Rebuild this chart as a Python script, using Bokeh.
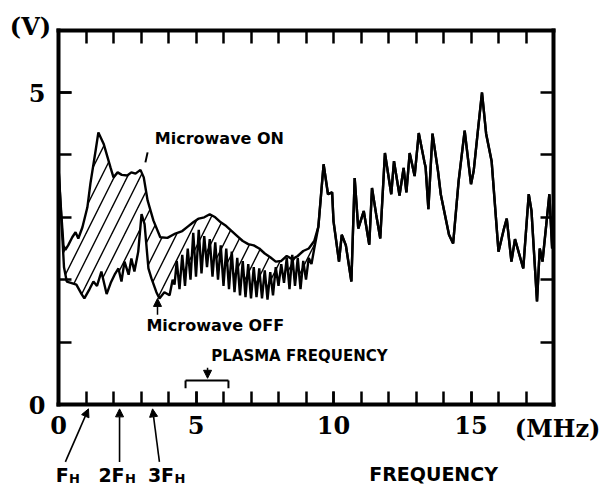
from bokeh.plotting import figure
from bokeh.models import Range1d, LinearAxis, FixedTicker, Label, Arrow, NormalHead
from bokeh.embed import file_html
from bokeh.resources import INLINE

# ---- data (MHz, V) ----
on_freq = [0.0, 0.08, 0.18, 0.25, 0.35, 0.5, 0.62, 0.72, 0.87, 1.05, 1.16, 1.35, 1.45, 1.64,
           1.89, 2.0, 2.15, 2.3, 2.5, 2.65, 2.8, 2.98, 3.1, 3.24, 3.45, 3.7, 3.96, 4.25,
           4.5, 4.7, 4.9, 5.1, 5.3, 5.5, 5.7, 5.9, 6.1, 6.3, 6.5, 6.7, 6.9, 7.1, 7.3, 7.5,
           7.7, 7.9, 8.1, 8.3, 8.5, 8.7, 8.9, 9.1, 9.3, 9.45]
on_volt = [3.80, 3.20, 2.55, 2.48, 2.55, 2.68, 2.76, 2.66, 2.84, 3.16, 3.54, 4.07, 4.36, 4.18,
           3.80, 3.64, 3.72, 3.68, 3.67, 3.72, 3.70, 3.76, 3.64, 3.27, 2.95, 2.68, 2.67, 2.74,
           2.78, 2.85, 2.92, 2.98, 3.00, 3.05, 3.00, 2.92, 2.86, 2.78, 2.70, 2.62, 2.57, 2.55,
           2.50, 2.42, 2.36, 2.29, 2.30, 2.38, 2.33, 2.38, 2.46, 2.50, 2.62, 2.85]

off_freq = [0.0, 0.1, 0.2, 0.3, 0.45, 0.65, 0.84, 0.94, 1.13, 1.27, 1.4, 1.56, 1.75, 1.9,
            2.04, 2.18, 2.29, 2.4, 2.55, 2.65, 2.76, 2.9, 3.02, 3.13, 3.27, 3.38, 3.56, 3.67,
            3.85, 4.04, 4.15, 4.22, 4.3, 4.4, 4.5, 4.6, 4.7, 4.8, 4.9, 5.0, 5.1, 5.2, 5.3,
            5.4, 5.5, 5.6, 5.7, 5.8, 5.9, 6.0, 6.1, 6.2, 6.3, 6.4, 6.5, 6.6, 6.7, 6.8, 6.9,
            7.0, 7.1, 7.2, 7.3, 7.4, 7.5, 7.6, 7.7, 7.8, 7.9, 8.0, 8.1, 8.2, 8.3, 8.4, 8.5,
            8.6, 8.7, 8.8, 8.9, 9.0, 9.1, 9.2, 9.3, 9.45]
off_volt = [3.80, 3.00, 2.20, 1.97, 1.95, 1.92, 1.77, 1.70, 1.85, 1.97, 1.90, 2.13, 1.77, 1.95,
            2.08, 2.18, 1.97, 2.29, 2.08, 2.34, 2.13, 2.45, 3.05, 2.89, 2.18, 2.02, 1.80, 1.70,
            1.80, 1.75, 2.00, 1.92, 2.30, 1.85, 2.40, 1.90, 2.50, 2.00, 2.75, 2.05, 2.80, 2.10, 2.70,
            2.20, 2.65, 2.05, 2.60, 2.00, 2.55, 1.90, 2.50, 1.85, 2.45, 1.80, 2.35, 1.75, 2.30, 1.72, 2.25,
            1.70, 2.20, 1.72, 2.18, 1.70, 2.15, 1.68, 2.12, 1.75, 2.20, 1.90, 2.25, 1.95, 2.35, 1.85, 2.40,
            1.90, 2.35, 1.85, 2.30, 2.00, 2.35, 2.25, 2.50, 2.85]

# above ~9.5 MHz both traces coincide
tail_freq = [9.64, 9.8, 9.95, 10.0, 10.2, 10.3, 10.45, 10.65, 10.77, 10.9, 11.1, 11.3, 11.4,
             11.55, 11.7, 11.87, 12.1, 12.2, 12.4, 12.55, 12.65, 12.77, 12.95, 13.1, 13.3,
             13.35, 13.45, 13.6, 13.8, 13.9, 14.2, 14.35, 14.55, 14.77, 15.0, 15.1, 15.27,
             15.4, 15.55, 15.75, 16.0, 16.2, 16.3, 16.47, 16.6, 16.9, 17.1, 17.2, 17.4,
             17.5, 17.6, 17.85, 17.95]
tail_volt = [3.85, 3.37, 3.40, 2.94, 2.29, 2.72, 2.55, 1.97, 3.63, 2.82, 3.10, 2.56, 3.47,
             3.05, 2.66, 4.03, 3.37, 3.90, 3.35, 3.79, 3.40, 4.03, 3.66, 4.35, 3.90,
             3.80, 3.13, 4.34, 3.74, 3.37, 2.72, 2.58, 3.58, 4.39, 3.53, 3.75, 4.47,
             5.00, 4.34, 3.90, 2.45, 2.82, 2.98, 2.29, 2.65, 2.18, 3.37, 3.10, 1.65,
             2.50, 2.29, 3.37, 2.50]

x_ticks = [0, 5, 10, 15]
x_minor = list(range(0, 19))
y_ticks = [0, 5]
y_minor = list(range(0, 7))
x_lo, x_hi = 0, 18
y_lo, y_hi = 0, 6

harmonic_labels = ["F", "2F", "3F"]
harmonic_freq = [1.09, 2.22, 3.42]

W, H = 605, 489
PX_X = 27.5    # px per MHz
PX_Y = 62.4    # px per V
p = figure(width=W, height=H,
           x_range=Range1d(x_lo - 58 / PX_X, x_hi + 52 / PX_X),
           y_range=Range1d(y_lo - 85 / PX_Y, y_hi + 29.6 / PX_Y),
           x_axis_location=None, y_axis_location=None,
           output_backend="svg", toolbar_location=None, min_border=0,
           background_fill_color="white", border_fill_color="white")
p.grid.visible = False
p.outline_line_color = None


def make_axis(side, loc, bounds, ticks, minor):
    ax = LinearAxis(fixed_location=loc, bounds=bounds,
                    ticker=FixedTicker(ticks=ticks, minor_ticks=minor))
    ax.axis_line_color = "black"
    ax.axis_line_width = 4
    ax.axis_line_cap = "square"
    ax.major_tick_in = 13
    ax.major_tick_out = 0
    ax.minor_tick_in = 13
    ax.minor_tick_out = 0
    ax.major_tick_line_width = 2.5
    ax.minor_tick_line_width = 2.5
    ax.major_tick_line_color = "black"
    ax.minor_tick_line_color = "black"
    ax.major_label_text_font = "DejaVu Serif"
    ax.major_label_text_font_style = "bold"
    ax.major_label_text_font_size = "24px"
    ax.major_label_text_color = "black"
    p.add_layout(ax, side)
    return ax


bottom = make_axis("below", y_lo, (x_lo, x_hi), x_ticks, x_minor)
bottom.major_label_standoff = 11
left = make_axis("left", x_lo, (y_lo, y_hi), y_ticks, y_minor)
left.major_label_standoff = 13
make_axis("above", y_hi, (x_lo, x_hi), [], x_minor)
make_axis("right", x_hi, (y_lo, y_hi), [], y_minor)

# hatched region between the two traces
hx = on_freq + off_freq[::-1]
hy = on_volt + off_volt[::-1]
p.patch(hx, hy, fill_color=None, line_color=None, hatch_pattern="/",
        hatch_color="black", hatch_scale=26, hatch_weight=1.4)

p.line(on_freq + tail_freq, on_volt + tail_volt, line_color="black", line_width=2.4)
p.line(off_freq + tail_freq, off_volt + tail_volt, line_color="black", line_width=2.4)

sans = "DejaVu Sans"


def lab(x, y, text, size, font=sans, align="center", base="middle"):
    p.add_layout(Label(x=x, y=y, text=text, text_font=font, text_font_size=size,
                       text_font_style="bold", text_align=align,
                       text_baseline=base, text_color="black"))


def seg(x0, y0, x1, y1, head=False, w=1.8):
    p.add_layout(Arrow(x_start=x0, y_start=y0, x_end=x1, y_end=y1, line_width=w,
                       line_color="black",
                       end=NormalHead(size=8, fill_color="black", line_color="black") if head else None))


lab(-1.02, 6.05, "(V)", "24px", font="DejaVu Serif")
lab(18.15, -0.39, "(MHz)", "24px", font="DejaVu Serif")

lab(5.85, 4.27, "Microwave ON", "16px")
seg(3.16, 3.88, 3.24, 4.04, w=2)
lab(5.7, 1.27, "Microwave OFF", "16px")
seg(3.6, 1.44, 3.6, 1.70, head=True, w=1.5)

lab(8.76, 0.785, "PLASMA FREQUENCY", "15px")
seg(5.42, 0.59, 5.42, 0.42, head=True, w=1.5)
seg(4.62, 0.385, 6.18, 0.385, w=2)
seg(4.62, 0.385, 4.62, 0.26, w=2)
seg(6.18, 0.385, 6.18, 0.26, w=2)

# harmonic markers below the axis
starts = [0.25, 2.22, 3.67]
for f, s in zip(harmonic_freq, starts):
    seg(s, -0.92, f, -0.07, head=True, w=1.6)
label_left = [-0.1, 1.45, 3.25]
for xl, t in zip(label_left, harmonic_labels):
    lab(xl, -1.13, t, "19px", align="left")
sub_left = [0.38, 2.42, 4.22]
for xs in sub_left:
    lab(xs, -1.18, "H", "13px", align="left")

lab(13.64, -1.11, "FREQUENCY", "19px")

open("out.html", "w").write(file_html(p, INLINE))
